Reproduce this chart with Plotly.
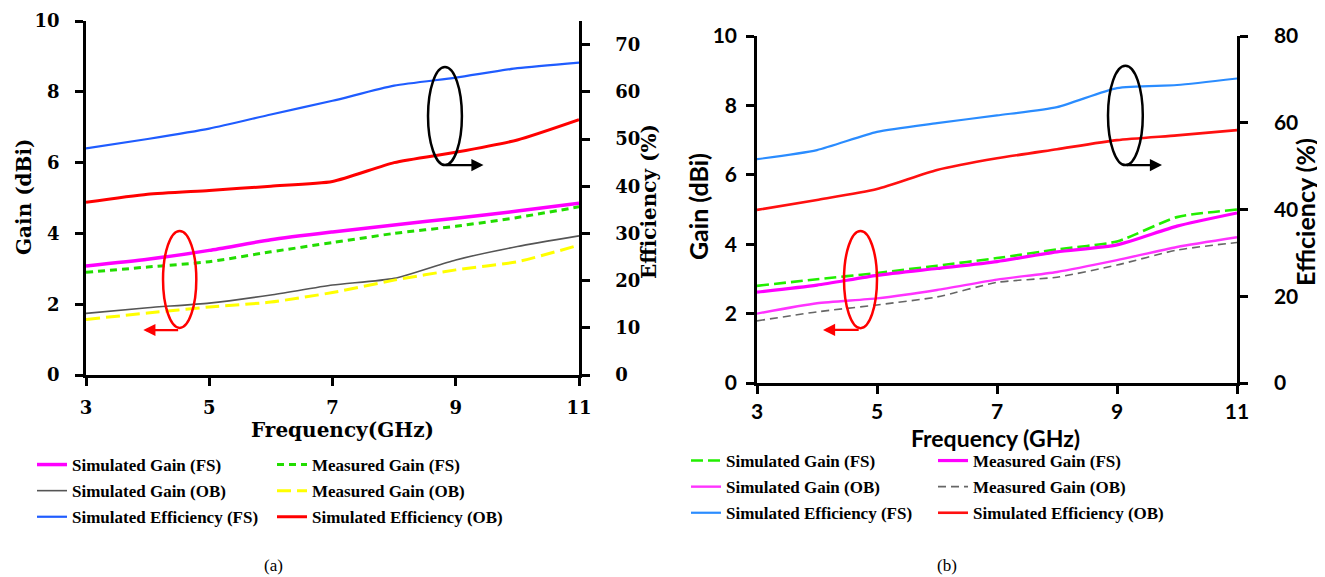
import plotly.graph_objects as go

# ---------------- data ----------------
freq = [3, 4, 5, 6, 7, 8, 9, 10, 11]

# (a)
sim_gain_fs_a = [3.08, 3.27, 3.52, 3.82, 4.04, 4.24, 4.43, 4.63, 4.85]
meas_gain_fs_a = [2.90, 3.05, 3.20, 3.48, 3.74, 4.00, 4.20, 4.45, 4.75]
sim_gain_ob_a = [1.74, 1.90, 2.03, 2.26, 2.54, 2.73, 3.25, 3.63, 3.93]
meas_gain_ob_a = [1.57, 1.75, 1.92, 2.06, 2.33, 2.68, 2.97, 3.20, 3.67]
sim_eff_fs_a = [48.0, 50.0, 52.2, 55.2, 58.1, 61.3, 63.0, 65.0, 66.2]
sim_eff_ob_a = [36.6, 38.3, 39.1, 40.0, 41.0, 45.0, 47.2, 49.8, 54.1]

# (b)
sim_gain_fs_b = [2.80, 2.99, 3.17, 3.38, 3.60, 3.85, 4.08, 4.78, 5.00]
meas_gain_fs_b = [2.62, 2.82, 3.10, 3.30, 3.50, 3.78, 3.98, 4.52, 4.90]
sim_gain_ob_b = [2.00, 2.30, 2.44, 2.68, 2.98, 3.20, 3.54, 3.92, 4.20]
meas_gain_ob_b = [1.79, 2.05, 2.25, 2.48, 2.90, 3.05, 3.40, 3.83, 4.05]
sim_eff_fs_b = [51.6, 53.7, 57.9, 59.9, 61.7, 63.6, 68.0, 68.7, 70.2]
sim_eff_ob_b = [39.9, 42.2, 44.7, 49.1, 51.8, 53.9, 56.0, 57.1, 58.3]

x_ticks = [3, 5, 7, 9, 11]
gain_ticks = [0, 2, 4, 6, 8, 10]
eff_ticks_a = [0, 10, 20, 30, 40, 50, 60, 70]
eff_ticks_b = [0, 20, 40, 60, 80]

names_a = ["Simulated Gain (FS)", "Measured Gain (FS)", "Simulated Gain (OB)",
           "Measured Gain (OB)", "Simulated Efficiency (FS)", "Simulated Efficiency (OB)"]
names_b = names_a

# the page body has an 8px margin: size the figure to fit the window and
# express every position in window pixels
OFF = 8
W, H = 1325, 577
FW, FH = W - OFF, H - OFF
SERIF = "DejaVu Serif"
TIMES = "Liberation Serif"
SANS = "Lato"

fig = go.Figure()


def add(x, y, name, color, width, dash, xa, ya, legend, group):
    fig.add_trace(go.Scatter(
        x=x, y=y, name=name, mode="lines",
        line=dict(color=color, width=width, dash=dash, shape="spline", smoothing=0.6),
        xaxis=xa, yaxis=ya, legend=legend, legendgroup=group,
        hoverinfo="skip"))


# (a)
add(freq, sim_gain_fs_a, names_a[0], "#ff00ff", 3.5, "solid", "x", "y", "legend", "a1")
add(freq, sim_gain_ob_a, names_a[2], "#555555", 1.6, "solid", "x", "y", "legend", "a2")
add(freq, sim_eff_fs_a, names_a[4], "#1f5cff", 2.2, "solid", "x", "y2", "legend", "a3")
add(freq, meas_gain_fs_a, names_a[1], "#22dd00", 3, "7px,5px", "x", "y", "legend2", "a4")
add(freq, meas_gain_ob_a, names_a[3], "#ffff00", 3, "14px,6px", "x", "y", "legend2", "a5")
add(freq, sim_eff_ob_a, names_a[5], "#ff0000", 3, "solid", "x", "y2", "legend2", "a6")

# (b)
add(freq, sim_gain_fs_b, names_b[0], "#22ee00", 2.6, "12px,5px", "x2", "y3", "legend3", "b1")
add(freq, sim_gain_ob_b, names_b[2], "#ff33ff", 2.4, "solid", "x2", "y3", "legend3", "b2")
add(freq, sim_eff_fs_b, names_b[4], "#2a8cff", 2.2, "solid", "x2", "y4", "legend3", "b3")
add(freq, meas_gain_fs_b, names_b[1], "#ff00ff", 3.2, "solid", "x2", "y3", "legend4", "b4")
add(freq, meas_gain_ob_b, names_b[3], "#666666", 1.6, "8px,5px", "x2", "y3", "legend4", "b5")
add(freq, sim_eff_ob_b, names_b[5], "#ff1010", 2.6, "solid", "x2", "y4", "legend4", "b6")


def px_x(p):
    return (p - OFF) / FW


def px_y(p):
    return 1 - (p - OFF) / FH


axis_common = dict(showline=True, linecolor="black", linewidth=2.5, ticks="outside",
                   ticklen=8, tickwidth=2.5, tickcolor="black", showgrid=False,
                   zeroline=False, fixedrange=True, automargin=False)

tick_font_a = dict(family=SERIF, size=18, color="black", weight="bold")
tick_font_b = dict(family=SANS, size=21, color="black", weight="bold")

fig.update_layout(
    width=FW, height=FH,
    margin=dict(l=0, r=0, t=0, b=0, pad=0, autoexpand=False),
    paper_bgcolor="white", plot_bgcolor="white",
    showlegend=True,
    xaxis=dict(domain=[px_x(86), px_x(579)], range=[3, 11], tickvals=x_ticks,
               anchor="y", tickfont=tick_font_a, ticklabelstandoff=7, **axis_common),
    yaxis=dict(domain=[px_y(375), px_y(21)], range=[0, 10], tickvals=gain_ticks,
               anchor="x", tickfont=tick_font_a, ticklabelstandoff=12, **axis_common),
    yaxis2=dict(overlaying="y", side="right", range=[0, 75], tickvals=eff_ticks_a,
                anchor="x", tickfont=tick_font_a, ticklabelstandoff=22, **axis_common),
    xaxis2=dict(domain=[px_x(757), px_x(1237)], range=[3, 11], tickvals=x_ticks,
                anchor="y3", tickfont=tick_font_b, ticklabelstandoff=0, **axis_common),
    yaxis3=dict(domain=[px_y(383), px_y(36)], range=[0, 10], tickvals=gain_ticks,
                anchor="x2", tickfont=tick_font_b, ticklabelstandoff=5, **axis_common),
    yaxis4=dict(overlaying="y3", side="right", range=[0, 80], tickvals=eff_ticks_b,
                anchor="x2", tickfont=tick_font_b, ticklabelstandoff=22, **axis_common),
)

leg_common = dict(orientation="v", xanchor="left", yanchor="top", bgcolor="rgba(0,0,0,0)",
                  font=dict(family=TIMES, size=17, color="black", weight="bold"),
                  tracegroupgap=1, itemclick=False, itemdoubleclick=False)
fig.update_layout(
    legend=dict(x=px_x(32), y=px_y(447), **leg_common),
    legend2=dict(x=px_x(272), y=px_y(447), **leg_common),
    legend3=dict(x=px_x(686), y=px_y(443), **leg_common),
    legend4=dict(x=px_x(933), y=px_y(443), **leg_common),
)

# ellipses (shapes)
fig.add_shape(type="circle", xref="x", yref="y", x0=4.25, x1=4.79, y0=1.33, y1=4.07,
              line=dict(color="red", width=2.5))
fig.add_shape(type="circle", xref="x", yref="y", x0=8.55, x1=9.10, y0=5.93, y1=8.70,
              line=dict(color="black", width=2.5))
fig.add_shape(type="circle", xref="x2", yref="y3", x0=4.45, x1=5.00, y0=1.58, y1=4.38,
              line=dict(color="red", width=2.5))
fig.add_shape(type="circle", xref="x2", yref="y3", x0=8.85, x1=9.43, y0=6.28, y1=9.14,
              line=dict(color="black", width=2.5))

annos = []


def arrow(xr, yr, x_head, x_tail, y, color):
    annos.append(dict(xref=xr, yref=yr, axref=xr, ayref=yr, x=x_head, y=y, ax=x_tail, ay=y,
                      text="", showarrow=True, arrowhead=2, arrowsize=1.1, arrowwidth=2.2,
                      arrowcolor=color))


arrow("x", "y", 3.93, 4.52, 1.27, "red")
arrow("x", "y", 9.45, 8.83, 5.93, "black")
arrow("x2", "y3", 4.10, 4.72, 1.53, "red")
arrow("x2", "y3", 9.75, 9.14, 6.28, "black")


def title(text, xp, yp, font, angle=0):
    annos.append(dict(xref="paper", yref="paper", x=px_x(xp), y=px_y(yp), text=text,
                      showarrow=False, textangle=angle, xanchor="center", yanchor="middle",
                      font=font))


tf_a = dict(family=SERIF, size=20, color="black", weight="bold")
tf_b = dict(family=SANS, size=23, color="black", weight="bold")
tf_b_y = dict(family=SANS, size=25, color="black", weight="bold")
title("Gain (dBi)", 24, 197, tf_a, -90)
title("Efficiency (%)", 649, 202, tf_a, -90)
title("Frequency(GHz)", 342, 430, tf_a)
title("Gain (dBi)", 698, 207, tf_b_y, -90)
title("Efficiency (%)", 1305, 212, tf_b_y, -90)
title("Frequency (GHz)", 995, 438, tf_b)

cap = dict(family=TIMES, size=17, color="black")
title("(a)", 273, 565, cap)
title("(b)", 947, 565, cap)

fig.update_layout(annotations=annos)

fig.write_html("out.html")
